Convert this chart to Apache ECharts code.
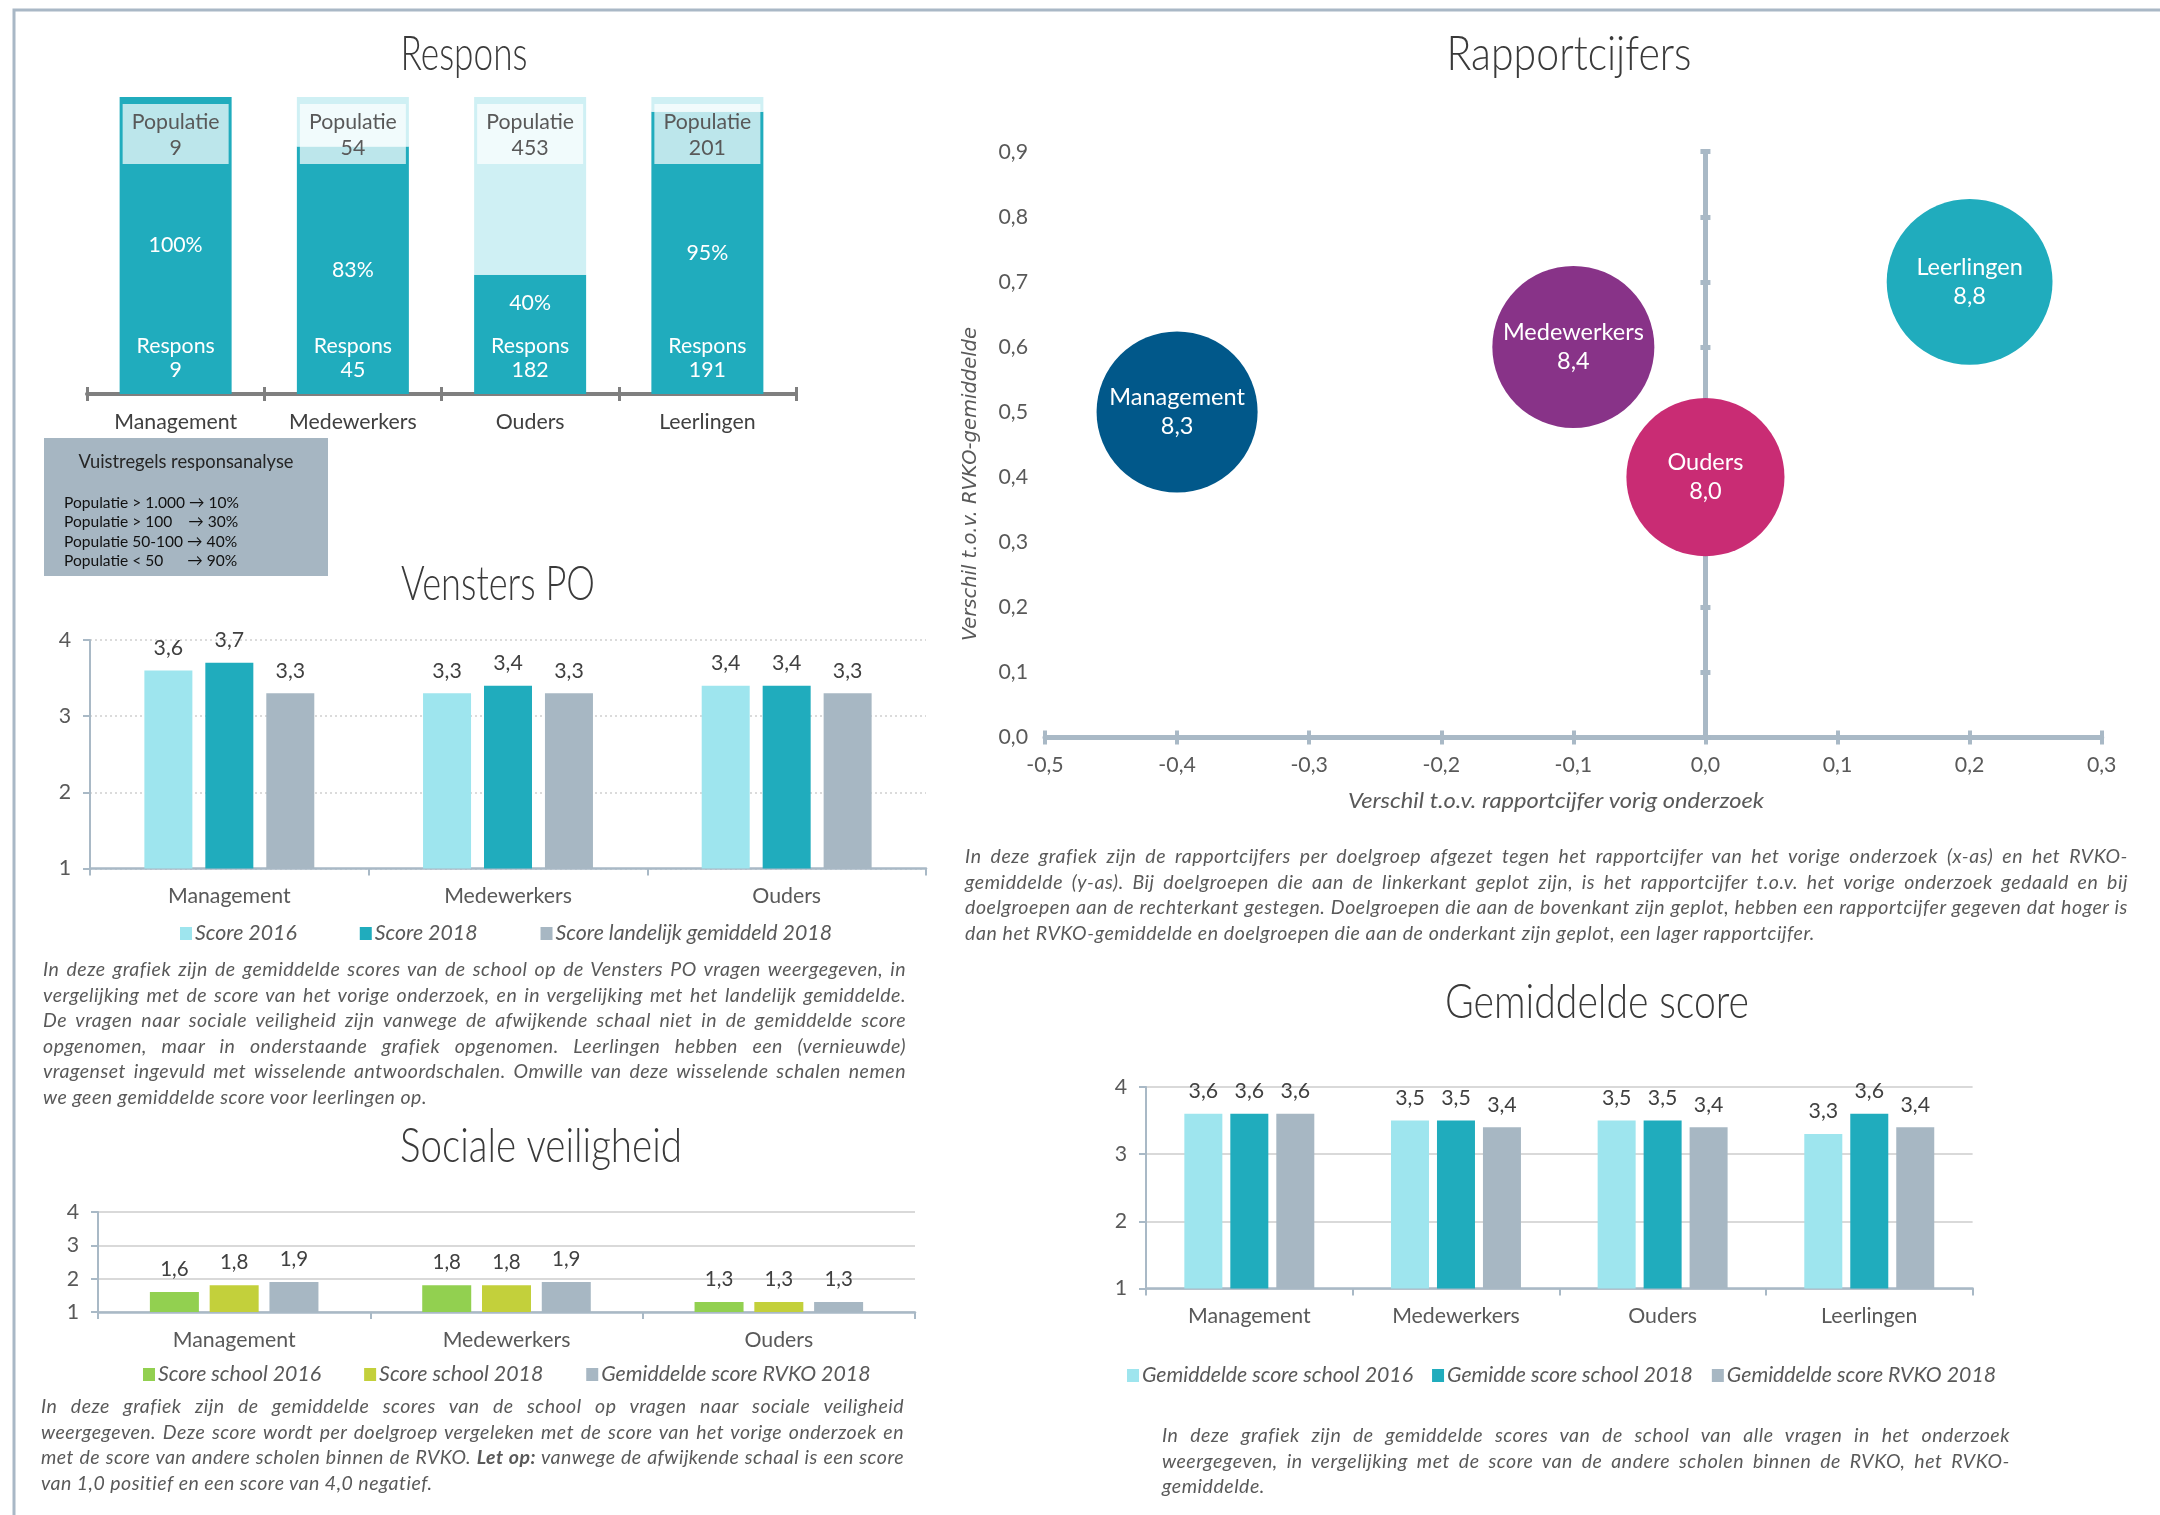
<!DOCTYPE html>
<html><head><meta charset="utf-8">
<script src="https://cdn.jsdelivr.net/npm/echarts/dist/echarts.min.js"></script>
<style>
html,body{margin:0;padding:0;background:#fff;}
#chart{position:absolute;left:0;top:0;width:2160px;height:1515px;}
.para{position:absolute;z-index:5;font-family:Lato,"Open Sans",sans-serif;font-style:italic;color:#595959;font-size:19.5px;line-height:25.6px;}
.para div{text-align:justify;text-align-last:justify;}
.para div.last{text-align-last:left;}
</style>
</head><body>
<div id="chart"></div>
<div class="para" data-last="384" style="left:43px;top:956px;width:863px;">
<div>In deze grafiek zijn de gemiddelde scores van de school op de Vensters PO vragen weergegeven, in</div>
<div>vergelijking met de score van het vorige onderzoek, en in vergelijking met het landelijk gemiddelde.</div>
<div>De vragen naar sociale veiligheid zijn vanwege de afwijkende schaal niet in de gemiddelde score</div>
<div>opgenomen, maar in onderstaande grafiek opgenomen. Leerlingen hebben een (vernieuwde)</div>
<div>vragenset ingevuld met wisselende antwoordschalen. Omwille van deze wisselende schalen nemen</div>
<div class="last">we geen gemiddelde score voor leerlingen op.</div>
</div>
<div class="para" data-last="391" style="left:41px;top:1393px;width:863px;">
<div>In deze grafiek zijn de gemiddelde scores van de school op vragen naar sociale veiligheid</div>
<div>weergegeven. Deze score wordt per doelgroep vergeleken met de score van het vorige onderzoek en</div>
<div>met de score van andere scholen binnen de RVKO. <b>Let op:</b> vanwege de afwijkende schaal is een score</div>
<div class="last">van 1,0 positief en een score van 4,0 negatief.</div>
</div>
<div class="para" data-last="850" style="left:965px;top:843px;width:1163px;">
<div>In deze grafiek zijn de rapportcijfers per doelgroep afgezet tegen het rapportcijfer van het vorige onderzoek (x-as) en het RVKO-</div>
<div>gemiddelde (y-as). Bij doelgroepen die aan de linkerkant geplot zijn, is het rapportcijfer t.o.v. het vorige onderzoek gedaald en bij</div>
<div>doelgroepen aan de rechterkant gestegen. Doelgroepen die aan de bovenkant zijn geplot, hebben een rapportcijfer gegeven dat hoger is</div>
<div class="last">dan het RVKO-gemiddelde en doelgroepen die aan de onderkant zijn geplot, een lager rapportcijfer.</div>
</div>
<div class="para" data-last="103" style="left:1162px;top:1422px;width:848px;">
<div>In deze grafiek zijn de gemiddelde scores van de school van alle vragen in het onderzoek</div>
<div>weergegeven, in vergelijking met de score van de andere scholen binnen de RVKO, het RVKO-</div>
<div class="last">gemiddelde.</div>
</div>
<script>
// ---------- DATA ----------
const responsCategories = ['Management', 'Medewerkers', 'Ouders', 'Leerlingen'];
const responsCount = [9, 45, 182, 191];
const populatieCount = [9, 54, 453, 201];

const venstersCategories = ['Management', 'Medewerkers', 'Ouders'];
const venstersNames = ['Score 2016', 'Score 2018', 'Score landelijk gemiddeld 2018'];
const vensters2016 = [3.6, 3.3, 3.4];
const vensters2018 = [3.7, 3.4, 3.4];
const venstersLandelijk = [3.3, 3.3, 3.3];

const socialeCategories = ['Management', 'Medewerkers', 'Ouders'];
const socialeNames = ['Score school 2016', 'Score school 2018', 'Gemiddelde score RVKO 2018'];
const sociale2016 = [1.6, 1.8, 1.3];
const sociale2018 = [1.8, 1.8, 1.3];
const socialeRvko = [1.9, 1.9, 1.3];

const rapportGroups = ['Management', 'Medewerkers', 'Ouders', 'Leerlingen'];
const rapportVerschilVorig = [-0.4, -0.1, 0.0, 0.2];
const rapportVerschilRvko = [0.5, 0.6, 0.4, 0.7];
const rapportCijfer = [8.3, 8.4, 8.0, 8.8];

const gemCategories = ['Management', 'Medewerkers', 'Ouders', 'Leerlingen'];
const gemNames = ['Gemiddelde score school 2016', 'Gemidde score school 2018', 'Gemiddelde score RVKO 2018'];
const gem2016 = [3.6, 3.5, 3.5, 3.3];
const gem2018 = [3.6, 3.5, 3.5, 3.6];
const gemRvko = [3.6, 3.4, 3.4, 3.4];

const vuistregelsTitle = 'Vuistregels responsanalyse';
const vuistregels = ['Populatie > 1.000 \u2192 10%', 'Populatie > 100    \u2192 30%', 'Populatie 50-100 \u2192 40%', 'Populatie < 50      \u2192 90%'];

// ---------- STYLE ----------
const FONT = 'Lato, "Open Sans", sans-serif';
const TXT = '#595959';
const AX = '#a9b9c6';
const FS = 21.3;
const comma = v => (Math.round(v * 10) / 10).toFixed(1).replace('.', ',');
const C_LIGHT = '#9ee5ee', C_TEAL = '#20acbd', C_GREY = '#a7b7c3';
const bubbleColors = ['#01588a', '#883388', '#c92c74', '#20acbd'];

const mctx = document.createElement('canvas').getContext('2d');
function fitScale(text, style, weight, size, family, target) {
  mctx.font = style + ' ' + weight + ' ' + size + 'px ' + family;
  return target / mctx.measureText(text).width;
}
function fitText(text, x, y, target, opts) {
  const o = Object.assign({ size: 20, weight: 'normal', style: 'normal', family: FONT, fill: TXT, align: 'center', rotation: 0, scale: null }, opts || {});
  const s = o.scale || fitScale(text, o.style, o.weight, o.size, o.family, target);
  return { type: 'text', x: x, y: y, z: 10, scaleX: s, rotation: o.rotation,
    style: { text: text, fill: o.fill, fontSize: o.size, fontWeight: o.weight, fontStyle: o.style, fontFamily: o.family,
      textAlign: o.align, align: o.align, textVerticalAlign: 'middle', verticalAlign: 'middle' } };
}
function title(text, cx, cy, target) {
  return fitText(text, cx, cy, target, { size: 48, weight: 300, fill: '#3a3a3a' });
}

const pct = responsCount.map((r, i) => r / populatieCount[i] * 100);

function valueYAxis(gi, dotted) {
  return { type: 'value', gridIndex: gi, min: 1, max: 4, interval: 1,
    axisLine: { show: true, onZero: false, lineStyle: { color: AX, width: 2 } },
    axisTick: { show: true, length: 7, lineStyle: { color: AX, width: 2 } },
    axisLabel: { fontSize: FS, color: TXT, margin: 19, fontFamily: FONT },
    splitLine: { show: true, lineStyle: dotted ? { color: '#cfcfcf', type: [2, 3], width: 1.5 } : { color: '#d9d9d9', width: 2 } } };
}
function catXAxis(gi, data, margin) {
  return { type: 'category', gridIndex: gi, data: data,
    axisLine: { show: true, onZero: false, lineStyle: { color: AX, width: 2.5 } },
    axisTick: { show: true, length: 7, lineStyle: { color: AX, width: 2 } },
    axisLabel: { fontSize: FS, color: TXT, margin: margin, fontFamily: FONT } };
}
function barSeries(name, data, color, xi, yi, width, gap, fs) {
  return { type: 'bar', name: name, data: data, xAxisIndex: xi, yAxisIndex: yi, barWidth: width, barGap: gap,
    itemStyle: { color: color },
    label: { show: true, position: 'top', distance: 12, fontSize: fs, color: '#404040', fontFamily: FONT, formatter: p => comma(p.value) } };
}
function legend(names, left, top, gap) {
  return { data: names, left: left, top: top, itemGap: gap, itemWidth: 12, itemHeight: 13, icon: 'rect', padding: 0,
    selectedMode: false,
    textStyle: { fontSize: 21.3, fontStyle: 'italic', color: TXT, fontFamily: FONT, padding: [0, 0, 0, -2] } };
}

const chart = echarts.init(document.getElementById('chart'));
const vScale = fitScale(vuistregels[0], 'normal', 'normal', 16, FONT, 175);
const option = {
  animation: false,
  textStyle: { fontFamily: FONT },
  grid: [
    { left: 87, top: 97, width: 709, height: 297, outerBoundsMode: 'none' },
    { left: 90, top: 640, width: 836, height: 228.5, outerBoundsMode: 'none' },
    { left: 98, top: 1212, width: 817, height: 100, outerBoundsMode: 'none' },
    { left: 1045, top: 151.7, width: 1056.7, height: 585.7, outerBoundsMode: 'none' },
    { left: 1146, top: 1087, width: 826.6, height: 201.5, outerBoundsMode: 'none' }
  ],
  xAxis: [
    { type: 'category', gridIndex: 0, data: responsCategories,
      axisLine: { show: true, lineStyle: { color: '#7f7f7f', width: 4 } },
      axisTick: { show: true, length: 7, lineStyle: { color: '#7f7f7f', width: 3 } },
      axisLabel: { fontSize: FS, color: '#404040', margin: 18, fontFamily: FONT } },
    { type: 'category', gridIndex: 0, data: responsCategories, position: 'bottom',
      axisLine: { show: false }, axisLabel: { show: false },
      axisTick: { show: true, inside: true, length: 7, lineStyle: { color: '#7f7f7f', width: 3 } } },
    catXAxis(1, venstersCategories, 17),
    catXAxis(2, socialeCategories, 18),
    { type: 'value', gridIndex: 3, min: -0.5, max: 0.3, interval: 0.1,
      axisLine: { show: true, lineStyle: { color: AX, width: 5 } },
      axisTick: { show: true, length: 7, lineStyle: { color: AX, width: 4 } },
      axisLabel: { fontSize: FS, color: TXT, margin: 17, fontFamily: FONT, showMinLabel: true, showMaxLabel: true,
        formatter: v => comma(v) },
      splitLine: { show: false } },
    { type: 'value', gridIndex: 3, min: -0.5, max: 0.3, interval: 0.1, position: 'bottom',
      axisLine: { show: false }, axisLabel: { show: false }, splitLine: { show: false },
      axisTick: { show: true, inside: true, length: 7, lineStyle: { color: AX, width: 4 } } },
    catXAxis(4, gemCategories, 17)
  ],
  yAxis: [
    { type: 'value', gridIndex: 0, min: 0, max: 100, show: false },
    valueYAxis(1, true),
    valueYAxis(2, false),
    { type: 'value', gridIndex: 3, min: 0, max: 0.9, interval: 0.1,
      axisLine: { show: false, onZero: false }, axisTick: { show: false }, splitLine: { show: false },
      axisLabel: { fontSize: FS, color: TXT, margin: 17, fontFamily: FONT, showMinLabel: true, showMaxLabel: true,
        formatter: v => comma(v) } },
    { type: 'value', gridIndex: 3, min: 0, max: 0.9, interval: 0.1, position: 'left',
      axisLine: { show: true, onZero: true, lineStyle: { color: AX, width: 5 } },
      axisTick: { show: true, length: 5, lineStyle: { color: AX, width: 5 } },
      axisLabel: { show: false }, splitLine: { show: false } },
    { type: 'value', gridIndex: 3, min: 0, max: 0.9, interval: 0.1, position: 'left',
      axisLine: { show: false, onZero: true },
      axisTick: { show: true, inside: true, length: 5, lineStyle: { color: AX, width: 5 } },
      axisLabel: { show: false }, splitLine: { show: false } },
    valueYAxis(4, false)
  ],
  legend: [
    legend(venstersNames, 180, 923, 63),
    legend(socialeNames, 143, 1364, 43),
    legend(gemNames, 1127, 1365, 19)
  ],
  series: [
    // Respons
    { type: 'bar', name: 'Respons', stack: 'r', xAxisIndex: 0, yAxisIndex: 0, barWidth: 112, barGap: '-100%',
      data: pct, itemStyle: { color: C_TEAL },
      label: { show: true, position: 'insideBottom', distance: 12, fontSize: FS, lineHeight: 24, color: '#fff', fontFamily: FONT,
        formatter: p => 'Respons\n' + responsCount[p.dataIndex] } },
    { type: 'bar', name: 'Rest', stack: 'r', xAxisIndex: 0, yAxisIndex: 0, barWidth: 112, barGap: '-100%',
      data: pct.map(v => 100 - v), itemStyle: { color: '#cff0f4' } },
    { type: 'bar', name: 'Pct', xAxisIndex: 0, yAxisIndex: 0, barWidth: 112, barGap: '-100%', silent: true,
      data: pct.map(v => v < 50 ? { value: v, label: { position: 'insideTop', distance: 18 } } : v),
      itemStyle: { color: 'rgba(0,0,0,0)' },
      label: { show: true, position: 'inside', fontSize: FS, color: '#fff', fontFamily: FONT,
        formatter: p => Math.round(p.value) + '%' } },
    { type: 'bar', name: 'Pop', xAxisIndex: 0, yAxisIndex: 0, barWidth: 112, barGap: '-100%', silent: true,
      data: populatieCount.map(() => 100), itemStyle: { color: 'rgba(0,0,0,0)' },
      label: { show: true, position: 'insideTop', distance: 7, fontSize: FS, lineHeight: 26, color: TXT, fontFamily: FONT,
        width: 106, align: 'center', padding: [5, 0, 3, 0], backgroundColor: 'rgba(255,255,255,0.7)',
        formatter: p => 'Populatie\n' + populatieCount[p.dataIndex] } },
    // Vensters PO
    barSeries(venstersNames[0], vensters2016, C_LIGHT, 2, 1, 48, '27%', FS),
    barSeries(venstersNames[1], vensters2018, C_TEAL, 2, 1, 48, '27%', FS),
    barSeries(venstersNames[2], venstersLandelijk, C_GREY, 2, 1, 48, '27%', FS),
    // Sociale veiligheid
    barSeries(socialeNames[0], sociale2016, '#92d050', 3, 2, 49, '22%', 20.5),
    barSeries(socialeNames[1], sociale2018, '#c3d03b', 3, 2, 49, '22%', 20.5),
    barSeries(socialeNames[2], socialeRvko, C_GREY, 3, 2, 49, '22%', 20.5),
    // Rapportcijfers
    { type: 'scatter', name: 'Rapportcijfers', xAxisIndex: 4, yAxisIndex: 3,
      data: rapportGroups.map((g, i) => ({ name: g, value: [rapportVerschilVorig[i], rapportVerschilRvko[i], rapportCijfer[i]],
        itemStyle: { color: bubbleColors[i], opacity: 1 } })),
      symbolSize: d => Math.sqrt(d[2]) * 55.9,
      label: { show: true, position: 'inside', fontSize: 23.5, lineHeight: 29, color: '#fff', fontFamily: FONT,
        formatter: p => p.name + '\n' + comma(p.value[2]) } },
    // Gemiddelde score
    barSeries(gemNames[0], gem2016, C_LIGHT, 6, 6, 38, '21%', FS),
    barSeries(gemNames[1], gem2018, C_TEAL, 6, 6, 38, '21%', FS),
    barSeries(gemNames[2], gemRvko, C_GREY, 6, 6, 38, '21%', FS)
  ],
  graphic: [
    { type: 'rect', z: 0, shape: { x: 14, y: 10, width: 2300, height: 1600 }, style: { fill: 'rgba(0,0,0,0)', stroke: '#a9b8c6', lineWidth: 3 } },
    title('Respons', 464, 55, 127),
    title('Vensters PO', 498, 585, 194),
    title('Sociale veiligheid', 541, 1147, 282),
    title('Rapportcijfers', 1569, 55, 245),
    title('Gemiddelde score', 1597, 1003, 304),
    { type: 'rect', z: 1, shape: { x: 44, y: 438, width: 284, height: 138 }, style: { fill: '#a6b6c2' } },
    fitText(vuistregelsTitle, 186, 462, 215, { size: 19, fill: '#262626' }),
    ...vuistregels.map((t, i) => fitText(t, 64, 503 + i * 19.2, 0, { size: 16, fill: '#111', align: 'left', scale: vScale })),
    fitText('Verschil t.o.v. RVKO-gemiddelde', 971, 484, 314,
      { size: 19, style: 'italic', family: '"DejaVu Sans", Verdana, sans-serif', rotation: Math.PI / 2 }),
    fitText('Verschil t.o.v. rapportcijfer vorig onderzoek', 1556, 801, 416, { size: 21, style: 'italic' })
  ]
};
chart.setOption(option);

// paragraph fitting: match the reference's glyph spacing, keep every line on one row
document.querySelectorAll('.para').forEach(p => {
  const lines = Array.from(p.children);
  const W = p.clientWidth;
  const natural = el => {
    const s = el.style.cssText;
    el.style.display = 'inline-block'; el.style.whiteSpace = 'nowrap'; el.style.letterSpacing = '0px';
    const w = el.getBoundingClientRect().width;
    el.style.cssText = s;
    return w;
  };
  const last = lines[lines.length - 1];
  const ls = (parseFloat(p.dataset.last) - natural(last)) / last.textContent.length;
  lines.forEach(el => {
    const n = el.textContent.length;
    const w0 = natural(el);
    let l = ls;
    if (w0 + n * l > W - 3) l = (W - 3 - w0) / n;
    el.style.letterSpacing = l + 'px';
  });
});
</script>
</body></html>
